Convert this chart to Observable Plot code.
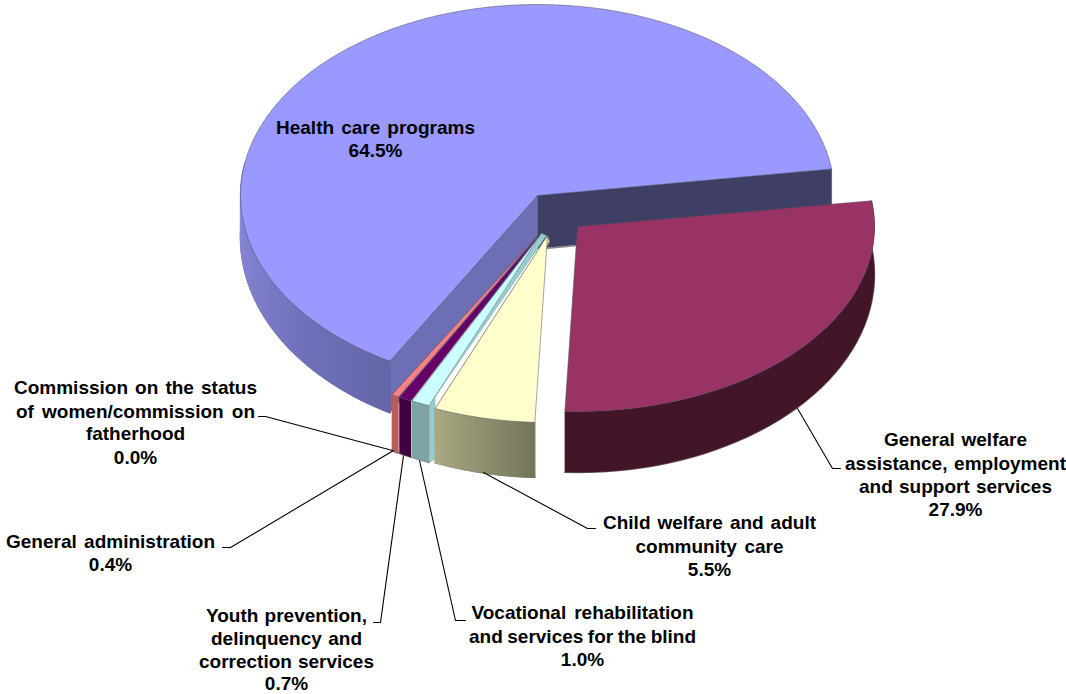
<!DOCTYPE html>
<html>
<head>
<meta charset="utf-8">
<style>html,body{margin:0;padding:0;background:#fff}svg{display:block}</style>
<script src="https://cdn.jsdelivr.net/npm/d3@7"></script>
<script src="https://cdn.jsdelivr.net/npm/@observablehq/plot@0.6"></script>
</head>
<body>
<div id="chart"></div>
<script>
// Data
const sliceNames = ["Health care programs","Commission on the status of women/commission on fatherhood","General administration","Youth prevention, delinquency and correction services","Vocational rehabilitation and services for the blind","Child welfare and adult community care","General welfare assistance, employment and support services"];
const sliceValues = [64.5,0.0,0.4,0.7,1.0,5.5,27.9];
const labelLines = [
  ["Health care programs"],
  ["Commission on the status","of women/commission on","fatherhood"],
  ["General administration"],
  ["Youth prevention,","delinquency and","correction services"],
  ["Vocational rehabilitation","and services for the blind"],
  ["Child welfare and adult","community care"],
  ["General welfare","assistance, employment","and support services"]
];

// Styles
const topColors  = ["#9999ff","#993366","#ff8080","#660066","#ccffff","#ffffcc","#993366"];
const wallFrom   = ["#6464a8","#000","#b85c5c","#3e003e","#7da3a3","#74745a","#421529"];
const wallTo     = ["#8e8ee4","#000","#b85c5c","#3e003e","#7da3a3","#a9a984","#421529"];

// Layout of the tilted pie
const W = 1066, H = 694;
const startAngle = -8;
const Rx = 297;
const pies = [
  {cx:537,cy:195,ry:191,hc:42,rb:202},
  {cx:541,cy:233,ry:186,hc:42,rb:202},
  {cx:539,cy:233,ry:186,hc:42,rb:202},
  {cx:540,cy:233,ry:186,hc:42,rb:202},
  {cx:541,cy:233,ry:186,hc:42,rb:202},
  {cx:547,cy:235,ry:187,hc:44,rb:198},
  {cx:577,cy:226,ry:185,hc:48,rb:198}
];
const labelCenters = [
  {x:375,ys:[127,150]},
  {x:135,ys:[387,411,433,457]},
  {x:110,ys:[541,564]},
  {x:286,ys:[615,638,661,683]},
  {x:582,ys:[612,636,659]},
  {x:709,ys:[522,546,569]},
  {x:955,ys:[439,463,486,509]}
];
// Measured line widths in the picture, matched by widening the word gaps
const labelWidths = {
  "Health care programs":199,"Commission on the status":243,"of women/commission on":239,
  "General administration":209,"Youth prevention,":161,"delinquency and":151,"correction services":175,
  "Vocational rehabilitation":222,"and services for the blind":227,"Child welfare and adult":213,
  "community care":148,"General welfare":143,"assistance, employment":221,"and support services":193
};
const leaders = [
  [[258,416],[265,416],[392,450]],
  [[222,547],[230,547],[393,450]],
  [[373,622],[380,622],[403,455]],
  [[465,620],[455,620],[419,460]],
  [[595,528],[587,528],[483,472]],
  [[840,468],[832,468],[797,408]]
];

// Angles from the values (clockwise on paper = decreasing t from the Health slice end)
const rad = d => d*Math.PI/180;
let cursor = startAngle - sliceValues[0]*3.6 + 360;
const arcs = sliceValues.map((v,i)=>{
  if(i===0) return {a0:startAngle-v*3.6, a1:startAngle};
  const a = {a0:cursor-v*3.6, a1:cursor};
  cursor -= v*3.6;
  return a;
});
const topPt = (i,t)=>{const p=pies[i];return {x:p.cx+Rx*Math.cos(rad(t)),y:p.cy+p.ry*Math.sin(rad(t))};};
const botPt = (i,t)=>{const p=pies[i];return {x:p.cx+Rx*Math.cos(rad(t)),y:p.cy+p.hc+p.rb*Math.sin(rad(t))};};
const sweep = (a,b,n)=>d3.range(n+1).map(k=>a+(b-a)*k/n);

const scene = [];   // ordered list of {pts, fill, stroke}
const add = (pts,fill,stroke,sw)=>scene.push({pts:[...pts,pts[0]],fill,stroke:stroke||"none",sw:sw||0});

function drawWall(i,t0,t1,n){
  const mix=d3.interpolateRgb(wallFrom[i],wallTo[i]);
  const ts=sweep(t0,t1,n);
  // soft grey fringe under the wall
  scene.push({pts:ts.map(t=>botPt(i,t)),fill:"none",stroke:"#8a8a8a",sw:1.6});
  if(wallFrom[i]===wallTo[i]){
    // one flat colour: a single band
    add([...ts.map(t=>topPt(i,t)),...ts.slice().reverse().map(t=>botPt(i,t))],wallFrom[i],wallFrom[i],.4);
    return;
  }
  for(let k=0;k<n;k++){
    const c=mix((k+.5)/n);
    add([topPt(i,ts[k]),topPt(i,ts[k+1]),botPt(i,ts[k+1]),botPt(i,ts[k])],c,c,1.2);
  }
}
function drawTop(i){
  const a=arcs[i];
  const p=pies[i];
  const ts=sweep(a.a0,a.a1,Math.max(4,Math.ceil((a.a1-a.a0)*2)));
  add([{x:p.cx,y:p.cy},...ts.map(t=>topPt(i,t))],topColors[i],"#4a4a5a",.5);
}

// Health slice: back faces, wall, top
const h = arcs[0];
const hEnd = topPt(0,h.a1), hStart=topPt(0,h.a0), c0={x:pies[0].cx,y:pies[0].cy};
const drop=53;
add([c0,hEnd,{x:hEnd.x,y:hEnd.y+drop},{x:c0.x,y:c0.y+drop}],"#3f3f66","#3f3f66",.5);
scene.push({pts:[{x:c0.x+8,y:c0.y+drop},{x:c0.x+40,y:c0.y+drop-3}],fill:"none",stroke:"#888",sw:1.5});
drawWall(0,h.a0+360,190,40);
add([c0,hStart,botPt(0,h.a0+360),{x:c0.x,y:c0.y+drop}],"#6e6eb4","#55558c",.5);
drawTop(0);

// Thin slices
[2,3,4].forEach(i=>{drawWall(i,arcs[i].a0,arcs[i].a1,4);drawTop(i);});
const cy=arcs[4], cOut=topPt(4,cy.a0);
// cut face of the vocational slice, seen between it and the child-care slice
add([{x:pies[4].cx,y:pies[4].cy},cOut,botPt(4,cy.a0),{x:botPt(4,cy.a0).x+5,y:botPt(4,cy.a0).y-3},{x:cOut.x+6,y:cOut.y-9},{x:pies[4].cx+5,y:pies[4].cy+2}],"#99cccc","#6f9c9c",.4);

// Child welfare
const chI=5, ch=arcs[5];
const chR=topPt(chI,ch.a1), chB=botPt(chI,ch.a1);
add([{x:pies[chI].cx,y:pies[chI].cy},chR,chB,{x:chB.x+3,y:chB.y},{x:pies[chI].cx+2,y:pies[chI].cy+6}],"#d8d8a8","#8a8a70",.5);
drawWall(chI,ch.a0,ch.a1,20);
drawTop(chI);

// General welfare
drawWall(6,arcs[6].a0,arcs[6].a1,40);
drawTop(6);

const faceRows = scene.flatMap((f,id)=>f.pts.map(p=>({x:p.x,y:p.y,id,fill:f.fill,stroke:f.stroke,sw:f.sw})));

const textRows = labelLines.flatMap((lines,i)=>[
  ...lines.map((t,k)=>({t,x:labelCenters[i].x,y:labelCenters[i].ys[k]})),
  {t:sliceValues[i].toFixed(1)+"%",x:labelCenters[i].x,y:labelCenters[i].ys[lines.length]}
]);
const leaderRows = leaders.flatMap((l,id)=>l.map(([x,y])=>({x,y,id})));

const marks = scene.map((f,id)=>Plot.line(faceRows.filter(r=>r.id===id),{
  x:"x",y:"y",fill:f.fill,stroke:f.stroke,strokeWidth:f.sw,curve:"linear",strokeLinejoin:"round"
}));

const plot = Plot.plot({
  width:W,height:H,margin:0,
  x:{type:"linear",domain:[0,W],range:[0,W],axis:null},
  y:{type:"linear",domain:[0,H],range:[0,H],axis:null},
  style:{background:"#fff"},
  marks:[
    ...marks,
    Plot.line(leaderRows,{x:"x",y:"y",z:"id",stroke:"#000",strokeWidth:1.1,curve:"linear"}),
    Plot.text(textRows,{x:"x",y:"y",text:"t",textAnchor:"middle",lineAnchor:"middle",fontFamily:"Liberation Sans",fontWeight:700,fontSize:19,fill:"#000"})
  ]
});
document.getElementById("chart").append(plot);
// Stretch the word gaps so that each line keeps the width it has in the picture
plot.querySelectorAll("text").forEach(el=>{
  const s=el.textContent, want=labelWidths[s], gaps=(s.match(/ /g)||[]).length;
  if(want&&gaps){
    const extra=(want-el.getComputedTextLength())/gaps;
    el.setAttribute("word-spacing",extra.toFixed(2));
  }
});
</script>
</body>
</html>
